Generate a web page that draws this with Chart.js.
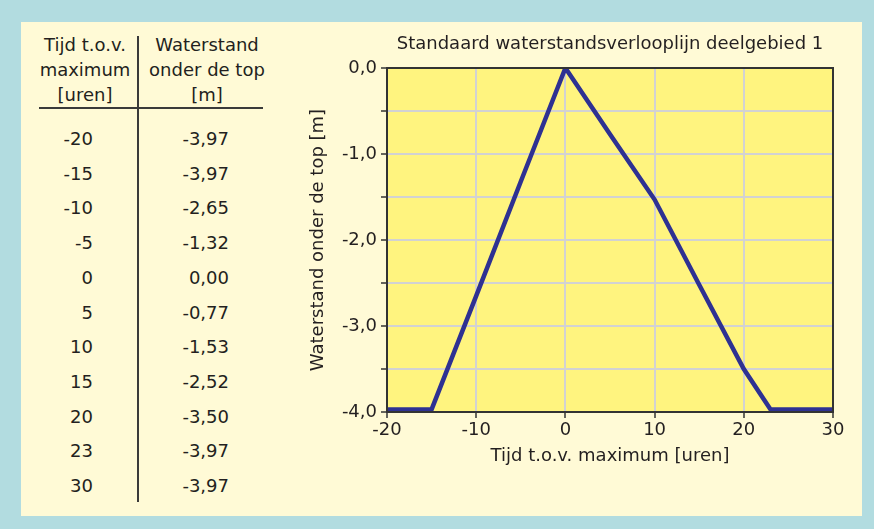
<!DOCTYPE html>
<html><head><meta charset="utf-8">
<script src="https://cdn.jsdelivr.net/npm/chart.js@4/dist/chart.umd.min.js"></script>
<style>
html,body{margin:0;padding:0;width:874px;height:529px;overflow:hidden;background:#b2dce0;font-family:"DejaVu Sans",sans-serif;color:#231f20;}
#panel{position:absolute;left:21px;top:22px;width:841px;height:494px;background:#fffad6;}
.t{position:absolute;font-size:18px;line-height:22px;white-space:nowrap;}
.rule{position:absolute;background:#3a3a3a;}
#wrap{position:absolute;left:300px;top:22px;width:562px;height:494px;}
</style></head><body>
<div id="panel"></div>
<div id="table"></div>
<div id="wrap"><canvas id="c" width="562" height="494"></canvas></div>
<script>
// ---- data ----
const hours  = [-20, -15, -10, -5, 0, 5, 10, 15, 20, 23, 30];
const levels = [-3.97, -3.97, -2.65, -1.32, 0.00, -0.77, -1.53, -2.52, -3.50, -3.97, -3.97];
const headTime  = ["Tijd t.o.v.", "maximum", "[uren]"];
const headLevel = ["Waterstand", "onder de top", "[m]"];
const chartTitle = "Standaard waterstandsverlooplijn deelgebied 1";
const xTitle = "Tijd t.o.v. maximum [uren]";
const yTitle = "Waterstand onder de top [m]";

const TXT = "#231f20";
const FONT = "'DejaVu Sans', sans-serif";

// ---- table (HTML text) ----
const tbl = document.getElementById("table");
function addText(txt, left, width, baseline, align) {
  const d = document.createElement("div");
  d.className = "t";
  d.textContent = txt;
  d.style.left = left + "px";
  d.style.width = width + "px";
  d.style.top = (baseline - 17) + "px";
  d.style.textAlign = align;
  tbl.appendChild(d);
}
headTime.forEach((s, i) => addText(s, 85 - 80, 160, 51 + i * 25, "center"));
headLevel.forEach((s, i) => addText(s, 207 - 80, 160, 51 + i * 25, "center"));
const fmt2 = v => v.toFixed(2).replace(".", ",");
hours.forEach((h, i) => {
  const b = 145 + i * 34.7;
  addText(String(h), 93 - 100, 100, b, "right");
  addText(fmt2(levels[i]), 229 - 100, 100, b, "right");
});
function rule(l, t, w, h) {
  const d = document.createElement("div");
  d.className = "rule";
  d.style.left = l + "px"; d.style.top = t + "px";
  d.style.width = w + "px"; d.style.height = h + "px";
  tbl.appendChild(d);
}
rule(39, 107, 224, 2);
rule(137, 36, 2, 466);

// ---- chart ----
const framePlugin = {
  id: "frame",
  beforeDraw(chart) {
    const a = chart.chartArea, ctx = chart.ctx;
    ctx.save();
    ctx.fillStyle = "#fff47f";
    ctx.fillRect(a.left, a.top, a.right - a.left, a.bottom - a.top);
    ctx.restore();
  },
  afterDatasetsDraw(chart) {
    const a = chart.chartArea, ctx = chart.ctx;
    ctx.save();
    ctx.strokeStyle = "#333333";
    ctx.lineWidth = 2;
    ctx.strokeRect(a.left, a.top, a.right - a.left, a.bottom - a.top);
    ctx.restore();
  }
};

const tickFont = { family: FONT, size: 18 };
new Chart(document.getElementById("c"), {
  type: "line",
  data: {
    datasets: [{
      data: hours.map((h, i) => ({ x: h, y: levels[i] })),
      borderColor: "#2e3192",
      borderWidth: 4.5,
      pointRadius: 0,
      tension: 0,
      fill: false
    }]
  },
  options: {
    responsive: false,
    animation: false,
    devicePixelRatio: 1,
    layout: { padding: { left: 0, right: 29, top: 0, bottom: 40 } },
    plugins: {
      legend: { display: false },
      tooltip: { enabled: false },
      title: {
        display: true, text: chartTitle, color: TXT, fullSize: false,
        font: { family: FONT, size: 18, weight: "normal" },
        padding: { top: 11.2, bottom: 13.2 }
      }
    },
    scales: {
      x: {
        type: "linear", min: -20, max: 30,
        ticks: { stepSize: 10, color: TXT, font: tickFont, padding: 2, maxRotation: 0 },
        grid: { color: "#d2d2d2", lineWidth: 2, tickColor: "#333", tickLength: 6, tickWidth: 1.5 },
        border: { display: true, color: "#333", width: 2 },
        title: { display: true, text: xTitle, color: TXT, font: tickFont, padding: { top: 0, bottom: 9 } },
        afterFit(s) { s.height = 64; }
      },
      y: {
        min: -4, max: 0,
        ticks: {
          stepSize: 0.5, color: TXT, font: tickFont, padding: 4,
          callback: v => Number.isInteger(v) ? v.toFixed(1).replace(".", ",") : ""
        },
        grid: { color: "#d2d2d2", lineWidth: 2, tickColor: "#333", tickLength: 6, tickWidth: 1.5 },
        border: { display: true, color: "#333", width: 2 },
        title: { display: true, text: yTitle, color: TXT, font: tickFont, padding: { top: 8, bottom: 0 } },
        afterFit(s) { s.width = 87; }
      }
    }
  },
  plugins: [framePlugin]
});
</script>
</body></html>
